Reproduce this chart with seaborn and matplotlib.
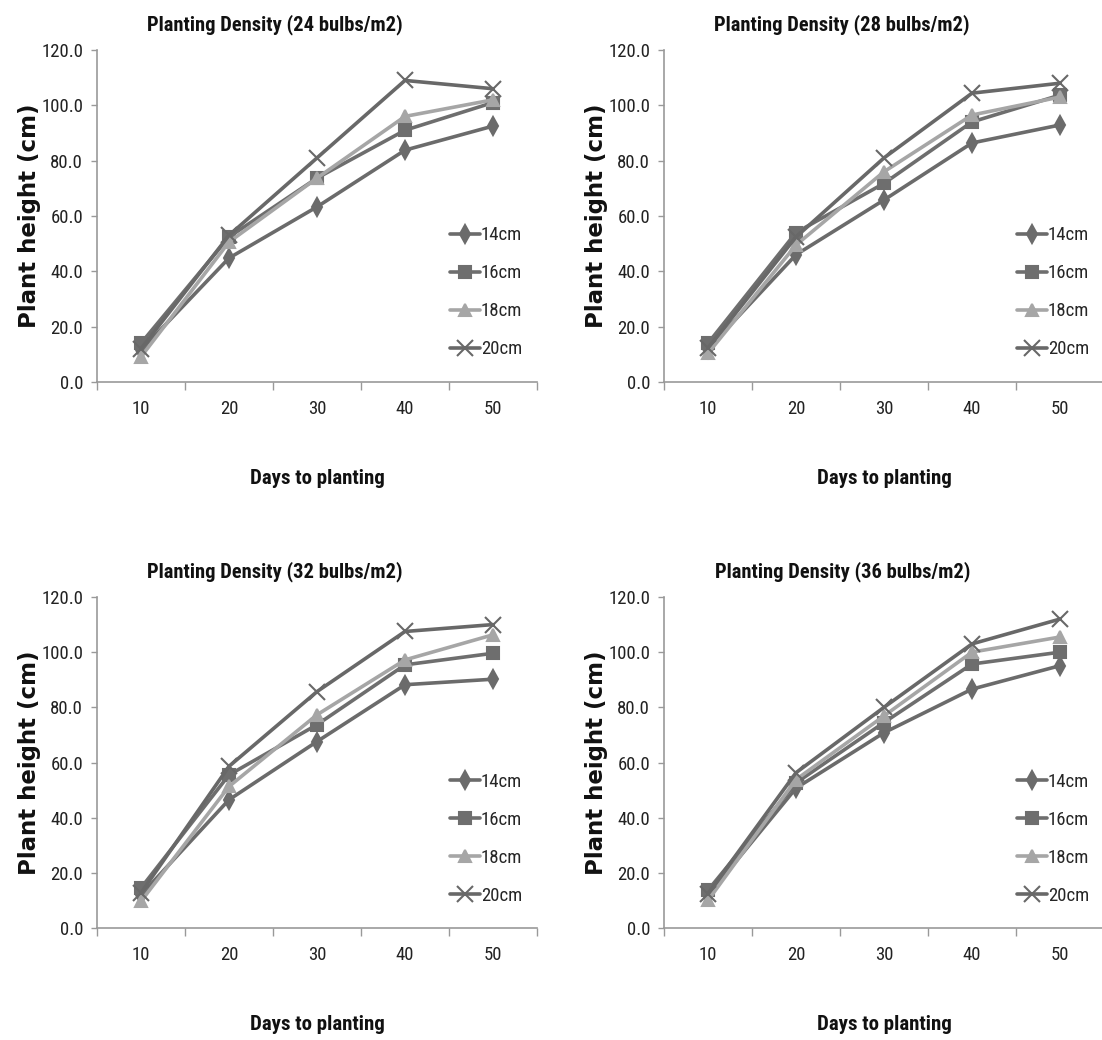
import numpy as np
import matplotlib
matplotlib.use("Agg")
import matplotlib.pyplot as plt
from matplotlib.ticker import FormatStrFormatter, FixedLocator
import seaborn as sns
import pandas as pd

days = [10, 20, 30, 40, 50]
sizes = ["14cm", "16cm", "18cm", "20cm"]
titles = ["Planting Density (24 bulbs/m2)", "Planting Density (28 bulbs/m2)",
          "Planting Density (32 bulbs/m2)", "Planting Density (36 bulbs/m2)"]

# plant height (cm) per bulb size, one list per density
d24_14 = [11.5, 44.8, 63.3, 83.8, 92.5]
d24_16 = [14.0, 52.4, 73.7, 91.0, 101.0]
d24_18 = [9.1, 50.6, 73.7, 96.0, 102.0]
d24_20 = [12.0, 53.0, 81.0, 109.0, 106.0]

d28_14 = [12.0, 46.0, 65.8, 86.4, 92.9]
d28_16 = [14.0, 54.0, 71.8, 94.0, 103.7]
d28_18 = [10.4, 49.5, 76.0, 96.5, 103.0]
d28_20 = [12.3, 52.4, 81.0, 104.4, 108.0]

d32_14 = [12.0, 46.5, 67.6, 88.2, 90.2]
d32_16 = [14.5, 55.5, 73.7, 95.4, 99.6]
d32_18 = [9.7, 51.3, 77.3, 97.2, 106.3]
d32_20 = [12.7, 58.6, 85.7, 107.5, 110.0]

d36_14 = [11.8, 50.7, 70.8, 86.6, 95.1]
d36_16 = [13.7, 52.6, 74.5, 95.7, 100.0]
d36_18 = [10.0, 53.8, 76.9, 100.0, 105.5]
d36_20 = [12.5, 56.3, 80.0, 103.0, 112.0]

panels = [
    [d24_14, d24_16, d24_18, d24_20],
    [d28_14, d28_16, d28_18, d28_20],
    [d32_14, d32_16, d32_18, d32_20],
    [d36_14, d36_16, d36_18, d36_20],
]

sns.set_style("white")
plt.rcParams['font.family'] = ['Roboto Condensed', 'Lato', 'DejaVu Sans']

colors = ["#6b6b6b", "#6e6e6e", "#a6a6a6", "#686868"]
markers = ["d", "s", "^", "x"]
msizes = [9, 8, 9, 11]

fig = plt.figure(figsize=(11.02, 10.40), dpi=100)
W, H = 1102, 1040
# axes boxes in pixels: left, top(120), right, bottom(0)
boxes = [(97, 50, 537, 382), (664, 50, 1104, 382),
         (97, 597, 537, 928), (664, 597, 1104, 928)]

for i, (vals, box) in enumerate(zip(panels, boxes)):
    l, t, r, b = box
    ax = fig.add_axes([l / W, 1 - b / H, (r - l) / W, (b - t) / H])
    for s, v, c, m, ms in zip(sizes, vals, colors, markers, msizes):
        df = pd.DataFrame({"days": days, "height": v})
        sns.lineplot(data=df, x="days", y="height", color=c, lw=2.6,
                     marker=m, markersize=ms, markeredgewidth=1.5,
                     markeredgecolor=c, markerfacecolor=c, label=s, ax=ax)

    ax.set_xlim(5, 55)
    ax.set_ylim(0, 120)
    ax.set_yticks(np.arange(0, 121, 20))
    ax.yaxis.set_major_formatter(FormatStrFormatter('%.1f'))
    ax.set_xticks(days)
    ax.xaxis.set_minor_locator(FixedLocator([5, 15, 25, 35, 45, 55]))
    ax.tick_params(axis='x', which='major', length=0, pad=13, labelsize=13.5, labelcolor='#222222')
    ax.tick_params(axis='x', which='minor', length=6, width=1, color='#999999', direction='out', bottom=True)
    ax.tick_params(axis='y', length=4, width=1, color='#999999', direction='out', left=True,
                   pad=6, labelsize=13.5, labelcolor='#222222')
    for sp in ['top', 'right']:
        ax.spines[sp].set_visible(False)
    for sp in ['left', 'bottom']:
        ax.spines[sp].set_color('#999999')
        ax.spines[sp].set_linewidth(1.2)

    ph = b - t
    ax.set_xlabel("Days to planting", fontsize=15, fontweight='bold', color='#111111')
    ax.xaxis.set_label_coords(0.5, -96 / ph)
    ax.xaxis.label.set_va('center')
    ax.set_ylabel("Plant height (cm)", fontsize=16.5, fontweight='bold',
                  family=['DejaVu Sans'], color='#111111')
    ax.yaxis.set_label_coords(-67 / 440, 0.5)
    ax.yaxis.label.set_va('center')
    ax.text(0.405, 1 + 25 / ph, titles[i], transform=ax.transAxes, ha='center', va='center',
            fontsize=14.8, fontweight='bold', color='#111111')

    leg = ax.legend(loc='center left', bbox_to_anchor=(0.765, 0.27), frameon=False,
                    fontsize=13.5, labelspacing=1.07, handlelength=1.6, handletextpad=0.02)
    for h in leg.legend_handles:
        h.set_linewidth(2.6)

fig.savefig("out.png", dpi=100)
